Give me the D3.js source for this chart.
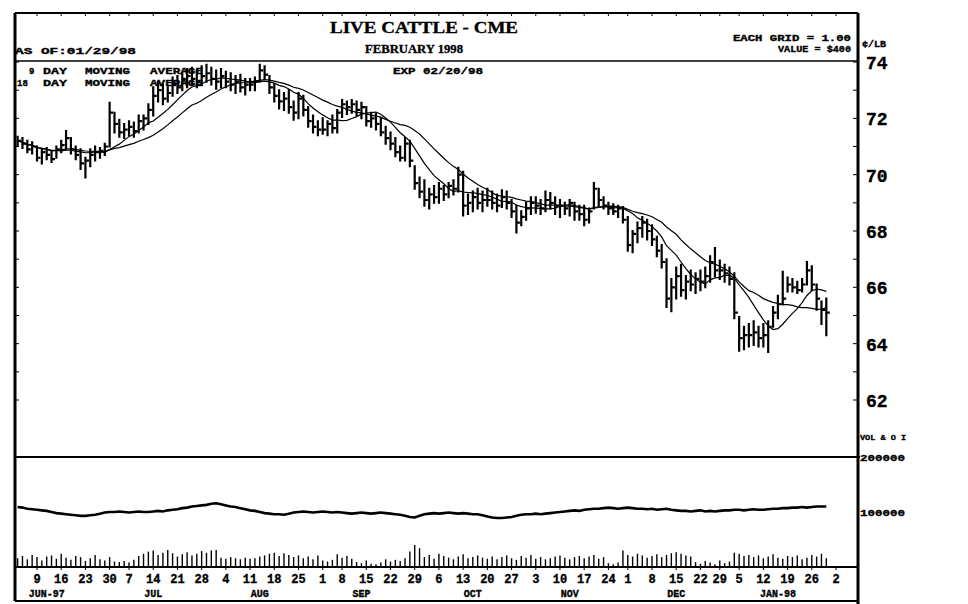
<!DOCTYPE html>
<html>
<head>
<meta charset="utf-8">
<script src="https://cdn.jsdelivr.net/npm/d3@7"></script>
<style>
  html, body { margin: 0; padding: 0; background: #fff; }
  svg text { font-family: "Liberation Mono", monospace; font-weight: bold; fill: #000; stroke: #000; stroke-width: 0.35; }
</style>
</head>
<body>
<div id="chart"></div>
<script>
// daily bars, Jun 3 1997 .. Jan 29 1998 (cents/lb)
const highs = [71.35,71.3,71.2,71.15, 71.0,70.9,70.95,70.85,71.0, 71.2,71.55,71.3,71.0,70.9, 70.6,70.9,71.0,70.95,71.1,
  72.55,72.2,71.95,71.8, 71.9,71.85,72.1,72.1,72.5, 73.1,73.3,73.2,73.1,73.45, 73.5,73.6,73.75,73.8,73.7,
  73.85,73.9,73.8,73.7,73.75, 73.65,73.6,73.5,73.55,73.4, 73.4,73.45,73.9,73.85,73.5, 73.2,73.0,72.9,73.0,72.6,
  72.9,72.8,72.4,72.1,71.9, 72.0,71.9,72.1,72.3, 72.65,72.6,72.65,72.6,72.55, 72.4,72.2,72.15,72.0,71.7,
  71.5,71.3,71.0,71.3,71.2, 70.3,69.9,69.8,69.5,69.6, 69.7,69.6,69.7,69.8,70.25, 70.1,69.3,69.4,69.5,69.4,
  69.5,69.4,69.3,69.45,69.4, 69.1,68.9,68.7,69.0,69.2, 69.2,69.1,69.4,69.35,69.2, 69.1,69.0,69.1,69.0,68.9,
  68.9,68.8,69.7,69.5,69.2, 69.0,68.95,68.9,68.85, 68.5,68.0,68.3,68.5,68.4, 68.2,67.8,67.5,67.0,66.3,
  66.7,66.8,66.4,66.6,66.5, 66.6,66.7,67.1,67.4, 66.95,66.8,66.7,66.5, 64.95,64.6,64.7,64.8,64.6,
  64.7,64.8,65.3,65.7,66.55, 66.35,66.3,66.2,66.3,66.9, 66.75,66.1,65.5,65.6];
const lows = [71.05,70.95,70.8,70.75, 70.5,70.4,70.55,70.45,70.6, 70.8,70.9,70.75,70.55,70.2, 69.9,70.3,70.5,70.6,70.7,
  71.0,71.5,71.35,71.3, 71.4,71.35,71.5,71.6,71.8, 72.1,72.6,72.5,72.6,72.8, 72.9,73.0,73.1,73.2,73.1,
  73.2,73.3,73.2,73.05,73.1, 73.1,73.0,72.9,72.95,72.85, 73.0,73.0,73.3,73.4,72.9, 72.6,72.35,72.3,72.2,71.95,
  72.0,72.1,71.7,71.5,71.4, 71.45,71.4,71.5,71.5, 72.05,72.15,72.2,72.1,72.0, 71.75,71.7,71.6,71.4,71.1,
  70.9,70.65,70.5,70.5,70.3, 69.5,69.2,68.9,68.8,69.0, 69.0,69.1,69.2,69.3,69.4, 68.55,68.6,68.7,68.8,68.7,
  68.9,68.8,68.7,68.85,68.8, 68.5,67.95,68.2,68.4,68.6, 68.65,68.6,68.7,68.8,68.6, 68.5,68.6,68.55,68.4,68.4,
  68.2,68.3,68.8,68.9,68.8, 68.6,68.6,68.5,68.3, 67.3,67.25,67.6,67.8,67.7, 67.5,67.1,66.7,65.3,65.15,
  65.6,65.7,65.6,65.9,65.8, 65.9,66.0,66.2,66.4, 66.3,66.2,66.1,64.9, 63.75,63.8,63.9,63.95,63.9,
  63.9,63.7,64.6,64.9,65.4, 65.85,65.85,65.8,65.85,66.1, 65.9,65.2,64.7,64.3];
const closes = [71.2,71.1,70.9,71.0, 70.6,70.8,70.7,70.55,70.9, 71.05,71.3,70.9,70.7,70.4, 70.5,70.7,70.8,70.85,71.0,
  72.2,71.8,71.5,71.6, 71.7,71.55,71.9,72.0,72.3, 72.8,73.0,72.7,72.9,73.2, 73.1,73.4,73.5,73.4,73.3,
  73.5,73.6,73.4,73.3,73.5, 73.3,73.2,73.3,73.1,73.2, 73.2,73.3,73.7,73.55,73.1, 72.8,72.6,72.7,72.4,72.2,
  72.7,72.3,71.9,71.7,71.6, 71.6,71.8,71.65,72.2, 72.5,72.4,72.5,72.3,72.4, 71.9,72.0,71.8,71.5,71.3,
  71.1,70.8,70.6,71.1,70.5, 69.7,69.4,69.1,69.3,69.2, 69.5,69.3,69.6,69.5,70.0, 68.9,69.0,69.2,69.0,69.1,
  69.1,69.0,68.9,69.2,69.0, 68.7,68.3,68.5,68.8,69.0, 68.9,68.8,69.1,69.0,68.9, 68.9,68.8,69.0,68.7,68.6,
  68.4,68.7,69.5,69.1,68.9, 68.8,68.7,68.8,68.4, 67.5,67.9,68.1,68.3,68.0, 67.7,67.3,66.9,65.6,66.0,
  66.4,65.9,66.2,66.1,66.3, 66.2,66.4,66.9,66.6, 66.6,66.5,66.3,65.1, 64.2,64.3,64.3,64.4,64.2,
  64.3,64.6,65.1,65.4,65.6, 66.1,66.0,65.9,66.1,66.6, 66.1,65.6,65.2,65.1];
// volume and open interest, thousands of contracts
const volume = [16,20,14,22,18,12,19,21,15,24,17,13,20,18,11,16,22,14,
  12,18,10,9,11,8,13,
  20,24,28,30,22,26,31,25,19,23,27,21,24,29,26,30,
  31,17,15,18,16,14,17,15,16,19,21,
  24,26,20,25,22,18,21,
  16,19,14,21,12,10,13,23,17,20,15,
  9,7,12,6,5,8,14,10,13,11,
  16,28,40,
  34,18,22,15,24,20,17,14,19,23,16,18,21,
  17,15,19,14,18,21,16,13,20,17,22,15,18,14,16,19,21,17,14,18,20,16,19,22,15,18,
  7,5,8,30,
  22,19,24,21,17,20,23,18,22,
  25,27,24,21,19,
  9,6,11,8,5,12,7,10,
  26,
  24,20,22,18,21,16,19,23,17,15,20,18,21,14,17,22,19,24,16];
const openInt = [109,108,106,105,104, 103,102,100,98,97, 96,95,94,93,93,94,95,97,
  99,100,100,101,100,99,100,101,100,100,101,102,101, 103,104,105,107,108, 110,111,112,113,115,116,
  114,112,110,109,107, 105,103,102,100,98, 97,96,96,95,97, 99,100,101,100,99,100,101,100,99,100,99,
  98,97,98,99,98,97,98,99,98,97,96,95, 93,91,90,93, 96,97,98,97,98,99,98,97,98,97,96,96,
  94,92,90,89,89,90,91,93, 95,96,96,97,96,97,98,99,100, 101,102,103,102,104,105,106,106,
  107,108,107,106,107,108,107,106,106, 105,106,104,105,106,104,103,102,
  102,101,102,103,101,102,101,102,103,103, 104,104,103,104,105,104,104,105,106,106,
  107,107,108,108,109,108,109,110,110,110];

const holidays = ["1997-07-04", "1997-09-01", "1997-11-27", "1997-12-25", "1998-01-01"];
const weekLabels = ["9","16","23","30","7","14","21","28","4","11","18","25","1","8","15","22","29",
  "6","13","20","27","3","10","17","24","1","8","15","22","29","5","12","19","26","2"];
const monthLabels = ["JUN-97", "JUL", "AUG", "SEP", "OCT", "NOV", "DEC", "JAN-98"];
const monthAt = ["1997-06-11", "1997-07-14", "1997-08-13", "1997-09-12", "1997-10-15", "1997-11-12", "1997-12-15", "1998-01-15"];
const priceTicks = [74, 72, 70, 68, 66, 64, 62];
const volTicks = [200000, 100000];

const width = 968, height = 604;
const svg = d3.select("#chart").append("svg").attr("width", width).attr("height", height);

const parse = d3.utcParse("%Y-%m-%d"), fmt = d3.utcFormat("%Y-%m-%d");
const days = d3.utcDays(parse("1997-06-03"), parse("1998-02-03"))
  .filter(d => d.getUTCDay() % 6 !== 0 && !holidays.includes(fmt(d)));
const dayIndex = d => d3.bisectLeft(days, d);
const mondays = d3.utcMondays(parse("1997-06-09"), parse("1998-02-03"));

const x = d3.scaleLinear().domain([4, 169]).range([37, 836]);
const y = d3.scaleLinear().domain([62, 74]).range([400, 62]);
const yv = d3.scaleLinear().domain([0, 200000]).range([567, 457]);

const L = 15, R = 858, T = 13, B = 601;

// frame
const frame = svg.append("g").attr("stroke", "#000").attr("fill", "none");
frame.append("line").attr("x1", L).attr("x2", R).attr("y1", T).attr("y2", T).attr("stroke-width", 2);
frame.append("line").attr("x1", L).attr("x2", R).attr("y1", 61).attr("y2", 61).attr("stroke-width", 1.5);
frame.append("line").attr("x1", L).attr("x2", R + 2).attr("y1", 457).attr("y2", 457).attr("stroke-width", 2);
frame.append("line").attr("x1", L).attr("x2", R).attr("y1", 567).attr("y2", 567).attr("stroke-width", 2);
frame.append("line").attr("x1", L).attr("x2", R).attr("y1", B).attr("y2", B).attr("stroke-width", 2);
frame.append("line").attr("x1", L).attr("x2", L).attr("y1", T).attr("y2", B).attr("stroke-width", 3);
frame.append("line").attr("x1", R).attr("x2", R).attr("y1", T).attr("y2", height).attr("stroke-width", 3);

// small ticks on borders
const dollar = d3.range(62, 75);
frame.selectAll(".lt").data(dollar).join("line")
  .attr("x1", L).attr("x2", L + 4).attr("y1", d => y(d)).attr("y2", d => y(d));
frame.selectAll(".rt").data(dollar).join("line")
  .attr("x1", R - 5).attr("x2", R).attr("y1", d => y(d)).attr("y2", d => y(d));
frame.selectAll(".tt").data(mondays).join("line")
  .attr("x1", d => x(dayIndex(d))).attr("x2", d => x(dayIndex(d)))
  .attr("y1", T).attr("y2", T + 3);
frame.selectAll(".bt").data(mondays).join("line")
  .attr("x1", d => x(dayIndex(d))).attr("x2", d => x(dayIndex(d)))
  .attr("y1", 567).attr("y2", 570);

// header text
const txt = (s, px, py, size, opts = {}) => {
  const t = svg.append("text").attr("x", px).attr("y", py).attr("font-size", size).text(s);
  if (opts.anchor) t.attr("text-anchor", opts.anchor);
  if (opts.len) t.attr("textLength", opts.len).attr("lengthAdjust", "spacingAndGlyphs");
  if (opts.family) t.style("font-family", opts.family);
  return t;
};
txt("LIVE CATTLE - CME", 330, 33, 17, { len: 188, family: "Liberation Serif" });
txt("FEBRUARY 1998", 365, 53, 13, { len: 98, family: "Liberation Serif" });
txt("AS OF:01/29/98", 15, 54, 9, { len: 121 });
txt("EACH GRID = 1.00", 851, 41, 9, { anchor: "end", len: 118 });
txt("VALUE = $400", 851, 52, 9, { anchor: "end", len: 73 });
txt("EXP 02/20/98", 393, 74, 8.5, { len: 90 });
txt("\u00a2/LB", 862, 47, 9, { len: 24 });

// moving average legend
[["9", 29, 74], ["18", 17, 86]].forEach(([n, nx, ny]) => {
  txt(n, nx, ny, 9);
  txt("DAY", 43, ny, 9, { len: 24 });
  txt("MOVING", 85, ny, 9, { len: 45 });
  txt("AVERAGE", 150, ny, 9, { len: 53 });
});

// price axis labels
svg.selectAll(".pl").data(priceTicks).join("text")
  .attr("x", 866).attr("y", d => y(d) + 7).attr("font-size", 18)
  .text(d => d);
txt("VOL & O I", 860, 440, 8, { len: 46 });
svg.selectAll(".vl").data(volTicks).join("text")
  .attr("x", 860).attr("y", d => yv(d) + 4).attr("font-size", 9)
  .attr("textLength", 45).attr("lengthAdjust", "spacingAndGlyphs")
  .text(d => d);

// date axis
svg.selectAll(".wl").data(mondays).join("text")
  .attr("x", d => x(dayIndex(d))).attr("y", 583).attr("text-anchor", "middle")
  .attr("font-size", 12)
  .text((d, i) => weekLabels[i]);
svg.selectAll(".ml").data(monthLabels).join("text")
  .attr("x", (d, i) => x(dayIndex(parse(monthAt[i])))).attr("y", 597).attr("text-anchor", "middle")
  .attr("font-size", 10)
  .text(d => d);

// price bars
const bars = highs.map((h, i) => ({ i, h, l: lows[i], c: closes[i] }));
svg.append("g").attr("stroke", "#000").attr("stroke-width", 2.2).attr("fill", "none")
  .selectAll("path").data(bars).join("path")
  .attr("d", d => `M${x(d.i)},${y(d.h) - 1}V${y(d.l) + 1}M${x(d.i)},${y(d.c)}H${x(d.i) + 3.5}`);

// moving averages
const movingAvg = n => closes.map((c, i) => d3.mean(closes.slice(Math.max(0, i - n + 1), i + 1)));
const maLine = d3.line().x((d, i) => x(i)).y(d => y(d));
[9, 18].forEach(n => {
  svg.append("path").datum(movingAvg(n))
    .attr("fill", "none").attr("stroke", "#000").attr("stroke-width", 1.2)
    .attr("d", maLine);
});

// volume bars
svg.append("g").attr("stroke", "#000").attr("stroke-width", 1.4)
  .selectAll("line").data(volume).join("line")
  .attr("x1", (d, i) => x(i)).attr("x2", (d, i) => x(i))
  .attr("y1", 567).attr("y2", d => yv(d * 1000));

// open interest
svg.append("path").datum(openInt)
  .attr("fill", "none").attr("stroke", "#000").attr("stroke-width", 2.6)
  .attr("d", d3.line().x((d, i) => x(i)).y(d => yv(d * 1000)));
</script>
</body>
</html>
